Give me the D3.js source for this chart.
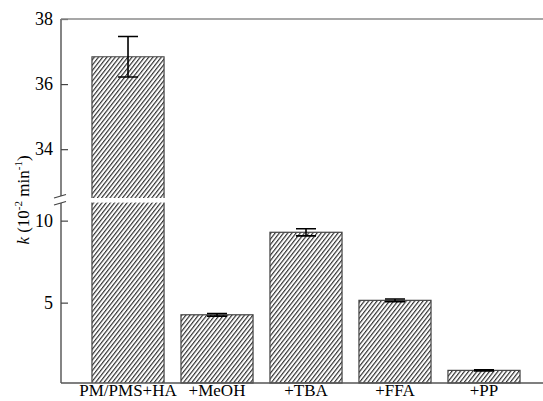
<!DOCTYPE html>
<html><head><meta charset="utf-8">
<script src="https://cdn.jsdelivr.net/npm/d3@7"></script>
<style>body{margin:0;background:#fff}svg{display:block}</style>
</head><body>
<svg id="c" width="543" height="401"></svg>
<script>
const categories = ["PM/PMS+HA", "+MeOH", "+TBA", "+FFA", "+PP"];
const values = [36.84, 4.26, 9.29, 5.14, 0.87];
const errors = [0.62, 0.08, 0.22, 0.08, 0.03];
const upperTicks = [34, 36, 38];
const lowerTicks = [5, 10];

const svg = d3.select("#c");
const left = 61, bottomY = 383;
const font = "Liberation Serif, Times New Roman, serif";

const x = d3.scaleBand().domain(categories)
  .range([left, 551]).paddingInner(0.19).paddingOuter(0.348).align(0.5);
const yHigh = d3.scaleLinear().domain([32.5, 38]).range([198, 19]);
const yLow = d3.scaleLinear().domain([0.1, 11.1]).range([bottomY, 202.6]);
const breakLow = 11.1, breakHigh = 32.5;

// hatch pattern
const defs = svg.append("defs");
const pat = defs.append("pattern").attr("id", "hatch").attr("patternUnits", "userSpaceOnUse")
  .attr("width", 3.3).attr("height", 3.3).attr("patternTransform", "rotate(38)");
pat.append("rect").attr("width", 3.3).attr("height", 3.3).attr("fill", "#fff");
pat.append("line").attr("x1", 0.6).attr("y1", 0).attr("x2", 0.6).attr("y2", 3.3)
  .attr("stroke", "#222").attr("stroke-width", 1.1);

const data = categories.map((c, i) => ({c, v: values[i], e: errors[i]}));

// bars
data.forEach(d => {
  const x0 = x(d.c), w = x.bandwidth();
  if (d.v > breakHigh) {
    const yt = yLow(breakLow), yb = yLow(0.1);
    svg.append("rect").attr("x", x0).attr("y", yt).attr("width", w).attr("height", yb - yt)
      .attr("fill", "url(#hatch)");
    svg.append("path").attr("d", `M${x0},${yt}V${yb}M${x0 + w},${yt}V${yb}`)
      .attr("stroke", "#444").attr("stroke-width", 1.2).attr("fill", "none");
    const ut = yHigh(d.v), ub = yHigh(breakHigh);
    svg.append("rect").attr("x", x0).attr("y", ut).attr("width", w).attr("height", ub - ut)
      .attr("fill", "url(#hatch)");
    svg.append("path").attr("d", `M${x0},${ub}V${ut}H${x0 + w}V${ub}`)
      .attr("stroke", "#444").attr("stroke-width", 1.2).attr("fill", "none");
  } else {
    const yt = yLow(d.v), yb = yLow(0.1);
    svg.append("rect").attr("x", x0).attr("y", yt).attr("width", w).attr("height", yb - yt)
      .attr("fill", "url(#hatch)").attr("stroke", "#444").attr("stroke-width", 1.2);
  }
});

// error bars
data.forEach(d => {
  const sc = d.v > breakHigh ? yHigh : yLow;
  const cx = x(d.c) + x.bandwidth() / 2, cw = 10;
  const t = sc(d.v + d.e), b = sc(d.v - d.e);
  svg.append("path")
    .attr("d", `M${cx},${t}V${b}M${cx - cw},${t}H${cx + cw}M${cx - cw},${b}H${cx + cw}`)
    .attr("stroke", "#000").attr("stroke-width", 1.6).attr("fill", "none");
});

// axes
const fmt = d3.format("d");
const axU = svg.append("g").attr("transform", `translate(${left},0)`)
  .call(d3.axisLeft(yHigh).tickValues(upperTicks).tickFormat(fmt).tickSizeInner(-7).tickSizeOuter(0).tickPadding(8));
const axL = svg.append("g").attr("transform", `translate(${left},0)`)
  .call(d3.axisLeft(yLow).tickValues(lowerTicks).tickFormat(fmt).tickSizeInner(-7).tickSizeOuter(0).tickPadding(8));
[axU, axL].forEach(a => {
  a.select(".domain").remove();
  a.selectAll(".tick line").attr("stroke", "#444").attr("stroke-width", 1.2);
  a.selectAll(".tick text").attr("font-family", font).attr("font-size", 18).attr("fill", "#000");
});
svg.append("path").attr("d", `M${left},19V196M${left},203V${bottomY}`)
  .attr("stroke", "#444").attr("stroke-width", 1.3).attr("fill", "none");
svg.append("path").attr("d", `M54,198L66,194.5M54,205L66,201.5`)
  .attr("stroke", "#444").attr("stroke-width", 1.3).attr("fill", "none");

svg.append("line").attr("x1", left).attr("x2", 551).attr("y1", 19).attr("y2", 19)
  .attr("stroke", "#8a8a8a").attr("stroke-width", 1.6);

// x axis
const axX = svg.append("g").attr("transform", `translate(0,${bottomY})`)
  .call(d3.axisBottom(x).tickSize(0));
axX.select(".domain").attr("d", `M${left},0H551`).attr("stroke", "#555").attr("stroke-width", 1.3);
axX.selectAll(".tick text").attr("font-family", font).attr("font-size", 17).attr("fill", "#000")
  .attr("y", 13).attr("dy", 0);

// y label
const yl = svg.append("text").attr("transform", "translate(29,200) rotate(-90)")
  .attr("text-anchor", "middle").attr("font-family", font).attr("font-size", 17);
yl.append("tspan").attr("font-style", "italic").text("k");
yl.append("tspan").text(" (10");
yl.append("tspan").attr("font-size", 11).attr("dy", -7).text("-2");
yl.append("tspan").attr("dy", 7).text(" min");
yl.append("tspan").attr("font-size", 11).attr("dy", -7).text("-1");
yl.append("tspan").attr("dy", 7).text(")");
</script>
</body></html>
